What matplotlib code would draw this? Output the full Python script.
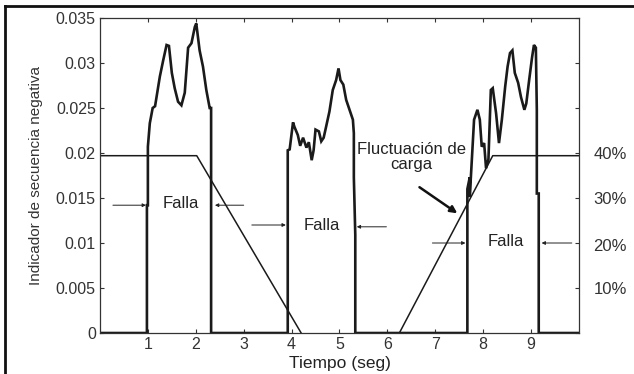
import numpy as np
import matplotlib.pyplot as plt
from matplotlib.lines import Line2D

plt.rcParams['font.family'] = ['Liberation Sans', 'DejaVu Sans']

# indicador de secuencia negativa
t_sig = [0, 0.98, 0.98, 1.0, 1.0, 1.04, 1.10, 1.15, 1.25, 1.32, 1.39, 1.44, 1.50, 1.56,
         1.63, 1.70, 1.77, 1.84, 1.91, 1.98, 2.01, 2.08, 2.15, 2.22, 2.29, 2.32, 2.32,
         3.92, 3.92, 3.96, 4.03, 4.06, 4.13, 4.18, 4.24, 4.31, 4.36, 4.42, 4.46, 4.50,
         4.57, 4.62, 4.67, 4.72, 4.79, 4.86, 4.93, 4.98, 5.02, 5.08, 5.14, 5.21, 5.28,
         5.30, 5.30, 5.33, 5.33,
         7.67, 7.67, 7.72, 7.72, 7.81, 7.88, 7.93, 7.97, 8.02, 8.06, 8.11, 8.16, 8.20,
         8.27, 8.33, 8.39, 8.46, 8.51, 8.56, 8.61, 8.66, 8.73, 8.79, 8.86, 8.90, 8.96,
         9.02, 9.06, 9.10, 9.12, 9.12, 9.16, 9.16, 10]
v_sig = [0, 0, 0.0142, 0.0142, 0.0207, 0.0233, 0.0250, 0.0252, 0.0285, 0.0303, 0.0320,
         0.0319, 0.0289, 0.0272, 0.0257, 0.0253, 0.0267, 0.0317, 0.0322, 0.0340, 0.0344,
         0.0314, 0.0296, 0.0270, 0.0250, 0.0250, 0,
         0, 0.0203, 0.0204, 0.0234, 0.0229, 0.0220, 0.0208, 0.0217, 0.0206, 0.0212,
         0.0192, 0.0203, 0.0226, 0.0224, 0.0213, 0.0217, 0.0229, 0.0246, 0.0270, 0.0281,
         0.0294, 0.0281, 0.0276, 0.0259, 0.0248, 0.0237, 0.0222, 0.0173, 0.0109, 0,
         0, 0.0160, 0.0173, 0.0151, 0.0237, 0.0248, 0.0237, 0.0207, 0.0211, 0.0183,
         0.0193, 0.0270, 0.0272, 0.0244, 0.0211, 0.0237, 0.0274, 0.0296, 0.0311, 0.0314,
         0.0289, 0.0278, 0.0262, 0.0248, 0.0255, 0.0281, 0.0306, 0.0320, 0.0317, 0.0248,
         0.0155, 0.0155, 0, 0]

# fluctuacion de carga (40% ~ 0.0197)
t_carga1 = [0, 2.02, 4.2]
v_carga1 = [0.0197, 0.0197, 0]
t_carga2 = [6.25, 8.2, 10]
v_carga2 = [0, 0.0197, 0.0197]

pct_labels = ['10%', '20%', '30%', '40%']
pct_vals = [0.0048, 0.0096, 0.0148, 0.0198]

# textos "Falla": (x texto, y texto, flecha izq (x0,x1,y), flecha der (x0,x1,y))
falla_txt = [(1.69, 0.0144), (4.63, 0.0120), (8.48, 0.0102)]
falla_izq = [(0.27, 0.96, 0.0142), (3.17, 3.88, 0.0120), (6.94, 7.63, 0.0100)]
falla_der = [(3.0, 2.40, 0.0142), (5.98, 5.36, 0.0118), (9.85, 9.22, 0.0100)]

fig = plt.figure(figsize=(6.34, 3.74), dpi=100)
ax = fig.add_axes([0.1577, 0.1096, 0.9132 - 0.1577, 0.9519 - 0.1096])

ax.plot(t_sig, v_sig, color='#1a1a1a', lw=1.9, solid_joinstyle='miter')
ax.plot(t_carga1, v_carga1, color='#1a1a1a', lw=1.1)
ax.plot(t_carga2, v_carga2, color='#1a1a1a', lw=1.1)

ax.set_xlim(0, 10)
ax.set_ylim(0, 0.035)
ax.set_xticks(range(1, 10))
ax.set_yticks(np.arange(0, 0.0351, 0.005))
ax.set_yticklabels(['0', '0.005', '0.01', '0.015', '0.02', '0.025', '0.03', '0.035'])
ax.tick_params(direction='in', top=True, right=True, length=3, width=0.8,
               labelsize=11.5, labelcolor='#333333', color='#333333', pad=3)
for s in ax.spines.values():
    s.set_color('#333333')
    s.set_linewidth(0.9)

ax.set_xlabel('Tiempo (seg)', fontsize=12.5, color='#222222', labelpad=3)
ax.set_ylabel('Indicador de secuencia negativa', fontsize=11, color='#333333', labelpad=9)

for lab, v in zip(pct_labels, pct_vals):
    ax.text(10.3, v, lab, fontsize=12, color='#333333', ha='left', va='center', clip_on=False)

flecha = dict(arrowstyle='-|>', color='#222222', lw=0.7, mutation_scale=5, shrinkA=0, shrinkB=0)
for (xt, yt), (a0, a1, ay), (b0, b1, by) in zip(falla_txt, falla_izq, falla_der):
    ax.text(xt, yt, 'Falla', fontsize=12, color='#222222', ha='center', va='center')
    ax.annotate('', xy=(a1, ay), xytext=(a0, ay), arrowprops=flecha)
    ax.annotate('', xy=(b1, by), xytext=(b0, by), arrowprops=flecha)

ax.text(6.5, 0.0196, 'Fluctuación de\ncarga', fontsize=12, color='#222222',
        ha='center', va='center', linespacing=1.0)
ax.annotate('', xy=(7.46, 0.0133), xytext=(6.67, 0.0162),
            arrowprops=dict(arrowstyle='-|>', color='#111111', lw=1.8, mutation_scale=10,
                            shrinkA=0, shrinkB=0))

# marco exterior (solo arriba e izquierda visibles)
fig.add_artist(Line2D([0.008, 1.0], [0.984, 0.984], transform=fig.transFigure, color='#111111', lw=2))
fig.add_artist(Line2D([0.008, 0.008], [0.0, 0.984], transform=fig.transFigure, color='#111111', lw=2))

fig.savefig('out.png', dpi=100)
